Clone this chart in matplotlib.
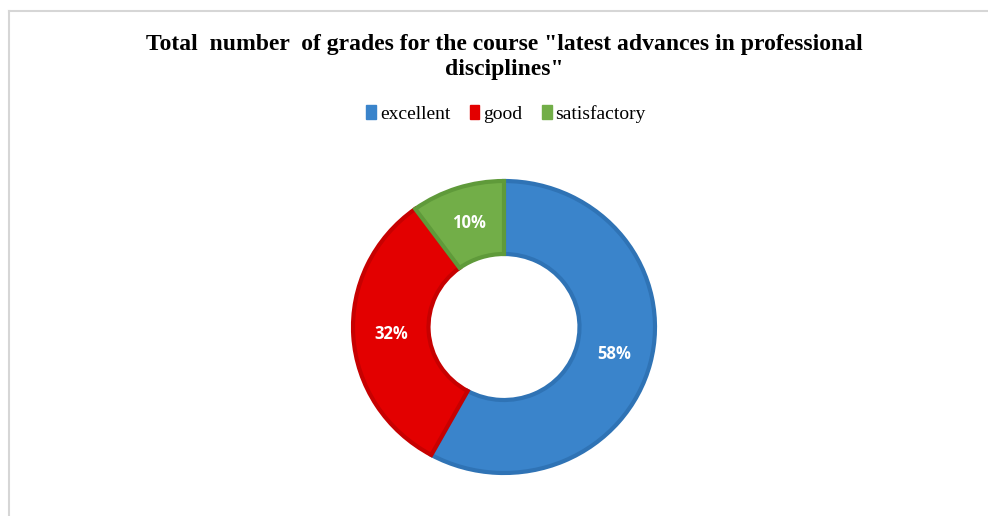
import matplotlib
matplotlib.use("Agg")
import matplotlib.pyplot as plt
from matplotlib.lines import Line2D
from matplotlib.patches import Patch

categories = ["excellent", "good", "satisfactory"]
values = [58, 32, 10]
colors = ["#3A84CB", "#E30000", "#72AE48"]
edgecolors = ["#2F73B5", "#C70000", "#5F9A3A"]

W, H = 988, 516
fig = plt.figure(figsize=(W / 100, H / 100), dpi=100)
fig.patch.set_facecolor("white")

# border lines
fig.add_artist(Line2D([9 / W, 1], [1 - 11 / H, 1 - 11 / H], color="#D6D6D6", lw=1.5))
fig.add_artist(Line2D([9 / W, 9 / W], [0, 1 - 11 / H], color="#D6D6D6", lw=1.5))

cx, cy, rx, ry = 504, 327, 151, 146
ax = fig.add_axes([(cx - rx) / W, (H - cy - ry) / H, 2 * rx / W, 2 * ry / H])
wedges, texts, autotexts = ax.pie(
    values, colors=colors, startangle=90, counterclock=False, radius=1,
    autopct=lambda p: f"{p:.0f}%", pctdistance=0.75,
    wedgeprops=dict(width=0.5, linewidth=3),
    textprops=dict(color="white", fontsize=12, fontweight="bold", family="Open Sans"),
)
for w, ec in zip(wedges, edgecolors):
    w.set_edgecolor(ec)
ax.set_xlim(-1, 1)
ax.set_ylim(-1, 1)
ax.set_aspect("auto")
ax.axis("off")

fig.text(504 / W, 1 - 57 / H,
         'Total  number  of grades for the course "latest advances in professional\ndisciplines"',
         ha="center", va="center", fontsize=17, fontweight="bold",
         family="Liberation Serif", linespacing=1.2)

handles = [Patch(facecolor=c, edgecolor=c) for c in colors]
fig.legend(handles, categories, loc="center", bbox_to_anchor=(506 / W, 1 - 114 / H),
           ncol=3, frameon=False, prop=dict(family="Liberation Serif", size=14),
           handlelength=0.5, handleheight=0.7, handletextpad=0.2, columnspacing=1.0)

fig.savefig("out.png", dpi=100)
